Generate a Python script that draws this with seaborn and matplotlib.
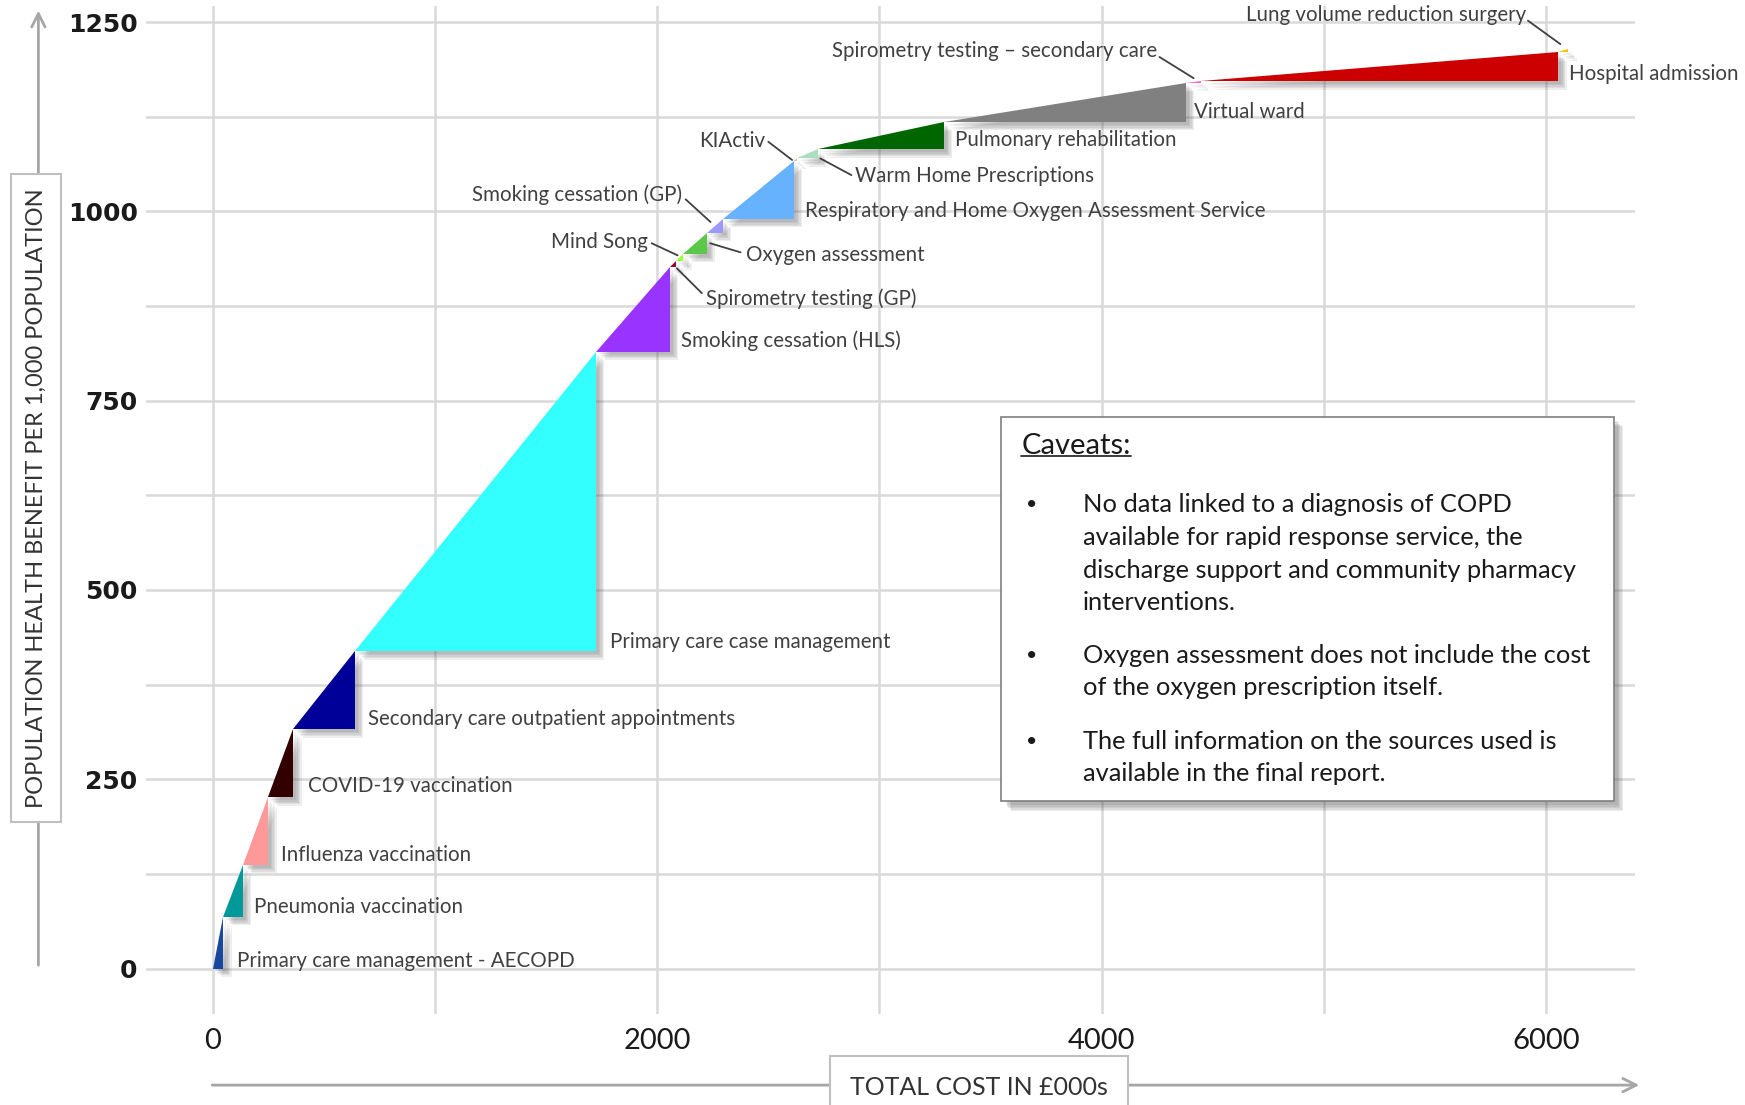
import numpy as np
import matplotlib
matplotlib.use("Agg")
import matplotlib.pyplot as plt
import matplotlib.patheffects as pe
from matplotlib.patches import Rectangle
import seaborn as sns

# interventions in order along the cost-benefit curve (cumulative end points)
interventions = [
    "Primary care management - AECOPD",
    "Pneumonia vaccination",
    "Influenza vaccination",
    "COVID-19 vaccination",
    "Secondary care outpatient appointments",
    "Primary care case management",
    "Smoking cessation (HLS)",
    "Spirometry testing (GP)",
    "Mind Song",
    "Oxygen assessment",
    "Smoking cessation (GP)",
    "Respiratory and Home Oxygen Assessment Service",
    "KIActiv",
    "Warm Home Prescriptions",
    "Pulmonary rehabilitation",
    "Virtual ward",
    "Spirometry testing \u2013 secondary care",
    "Hospital admission",
    "Lung volume reduction surgery",
]
cum_cost = [48, 135, 250, 363, 640, 1725, 2058, 2085, 2118, 2222, 2295,
            2614, 2630, 2724, 3290, 4380, 4445, 6055, 6100]
cum_benefit = [68, 137, 226, 316, 419, 815, 926, 934, 944, 972, 990,
               1067, 1070, 1082, 1118, 1170, 1172, 1210, 1214]
colours = ["#17479E", "#009999", "#FF9999", "#330000", "#000099", "#33FFFF",
           "#9933FF", "#990033", "#99FF33", "#5CC84A", "#9999FF", "#66B2FF",
           "#FFB380", "#A9DFBF", "#006600", "#808080", "#FF66CC", "#CC0000",
           "#FFC000"]

# label placement (data coords) and alignment
label_x = [110, 185, 305, 430, 700, 1787, 2108, 2218, 1957, 2398, 2113,
           2663, 2488, 2888, 3339, 4415, 4250, 6102, 5912]
label_y = [10, 81, 150, 241, 329, 431, 829, 885, 960, 943, 1022,
           1000, 1093, 1047, 1094, 1131, 1212, 1182, 1259]
label_ha = ["left"] * 7 + ["left", "right", "left", "right", "left", "right",
                           "left", "left", "left", "right", "left", "right"]
# short leader lines for the small slivers: (from x, from y, to x, to y)
leaders = {
    "Spirometry testing (GP)": (2201, 892, 2088, 925),
    "Mind Song": (1975, 958, 2092, 942),
    "Oxygen assessment": (2375, 946, 2238, 958),
    "Smoking cessation (GP)": (2128, 1016, 2240, 986),
    "KIActiv": (2500, 1092, 2607, 1068),
    "Warm Home Prescriptions": (2874, 1048, 2734, 1070),
    "Spirometry testing \u2013 secondary care": (4260, 1204, 4414, 1176),
    "Lung volume reduction surgery": (5918, 1252, 6064, 1221),
}

caveat_lines = [
    ["No data linked to a diagnosis of COPD",
     "available for rapid response service, the",
     "discharge support and community pharmacy",
     "interventions."],
    ["Oxygen assessment does not include the cost",
     "of the oxygen prescription itself."],
    ["The full information on the sources used is",
     "available in the final report."],
]

sns.set_theme(style="white")
plt.rcParams["font.family"] = ["Lato", "DejaVu Sans"]

fig = plt.figure(figsize=(17.45, 11.05), dpi=100)
ax = fig.add_axes([0.0837, 0.0824, 0.8533, 0.9126])

ax.set_xlim(-300, 6400)
ax.set_ylim(-60, 1272)

grid_col = "#D9D9D9"
for yv in np.arange(0, 1251, 125):
    ax.axhline(yv, color=grid_col, lw=1.8, zorder=0)
for xv in np.arange(0, 6001, 1000):
    ax.axvline(xv, color=grid_col, lw=1.8, zorder=0)

# soft drop shadow built from a few faint offset copies
shadow = [pe.SimplePatchShadow(offset=(o, -o), shadow_rgbFace="0.35", alpha=0.1)
          for o in (6, 5, 4, 3, 2)] + [pe.Normal()]

x0, y0 = 0, 0
for i, name in enumerate(interventions):
    x1, y1 = cum_cost[i], cum_benefit[i]
    poly = ax.fill([x0, x1, x1], [y0, y0, y1], color=colours[i], lw=0, zorder=3)[0]
    poly.set_path_effects(shadow)
    ax.text(label_x[i], label_y[i], name, fontsize=14.8, color="#404040",
            va="center", ha=label_ha[i], zorder=5)
    if name in leaders:
        lx0, ly0, lx1, ly1 = leaders[name]
        ax.plot([lx0, lx1], [ly0, ly1], color="#404040", lw=1.3, zorder=5)
    x0, y0 = x1, y1

# caveats box
box = Rectangle((3549, 221), 2754, 508, facecolor="white", edgecolor="#7F7F7F",
                lw=1.2, zorder=6)
box.set_path_effects([pe.SimplePatchShadow(offset=(o, -o), shadow_rgbFace="0.3", alpha=0.1)
                      for o in (7, 6, 5, 4, 3)] + [pe.Normal()])
ax.add_patch(box)
cav = ax.text(3639, 690, "Caveats:", fontsize=21, color="#1A1A1A", va="center",
              ha="left", zorder=7)
line_y = [[613, 569, 526, 484], [413, 371], [300, 257]]
for block, ys in zip(caveat_lines, line_y):
    ax.text(3660, ys[0], "\u2022", fontsize=14, color="#1A1A1A", va="center", zorder=7)
    for line, yy in zip(block, ys):
        ax.text(3915, yy, line, fontsize=18.3, color="#1A1A1A", va="center",
                ha="left", zorder=7)

# ticks
ax.set_xticks([0, 2000, 4000, 6000])
ax.set_xticklabels(["0", "2000", "4000", "6000"], fontsize=21)
ax.set_yticks([0, 250, 500, 750, 1000, 1250])
ax.set_yticklabels(["0", "250", "500", "750", "1000", "1250"],
                   family=["DejaVu Sans"], fontweight="bold", fontsize=18)
ax.tick_params(axis="both", length=0, colors="#1A1A1A")
ax.tick_params(axis="y", pad=6)
ax.tick_params(axis="x", pad=10)
sns.despine(ax=ax, left=True, bottom=True, top=True, right=True)

# axis arrows and boxed titles
arrow_kw = dict(arrowstyle="->,head_length=0.8,head_width=0.4", color="#A6A6A6", lw=2)
ax.annotate("", xy=(0.022, 0.993), xytext=(0.022, 0.124),
            xycoords="figure fraction", arrowprops=arrow_kw)
ax.annotate("", xy=(0.941, 0.018), xytext=(0.12, 0.018),
            xycoords="figure fraction", arrowprops=arrow_kw)
fig.text(0.0206, 0.549, "POPULATION HEALTH BENEFIT PER 1,000 POPULATION",
         rotation=90, ha="center", va="center", fontsize=17, color="#333333",
         bbox=dict(boxstyle="square,pad=0.6", facecolor="white", edgecolor="#BFBFBF", lw=1.5))
fig.text(0.561, 0.016, "TOTAL COST IN \u00a3000s", ha="center", va="center",
         fontsize=18, color="#333333",
         bbox=dict(boxstyle="square,pad=0.8", facecolor="white", edgecolor="#BFBFBF", lw=1.5))

# underline for the caveats heading
fig.canvas.draw()
bb = cav.get_window_extent().transformed(ax.transData.inverted())
ax.plot([bb.x0, bb.x1], [bb.y0 + 4, bb.y0 + 4], color="#1A1A1A", lw=1.2, zorder=7)

fig.savefig("out.png", dpi=100)
